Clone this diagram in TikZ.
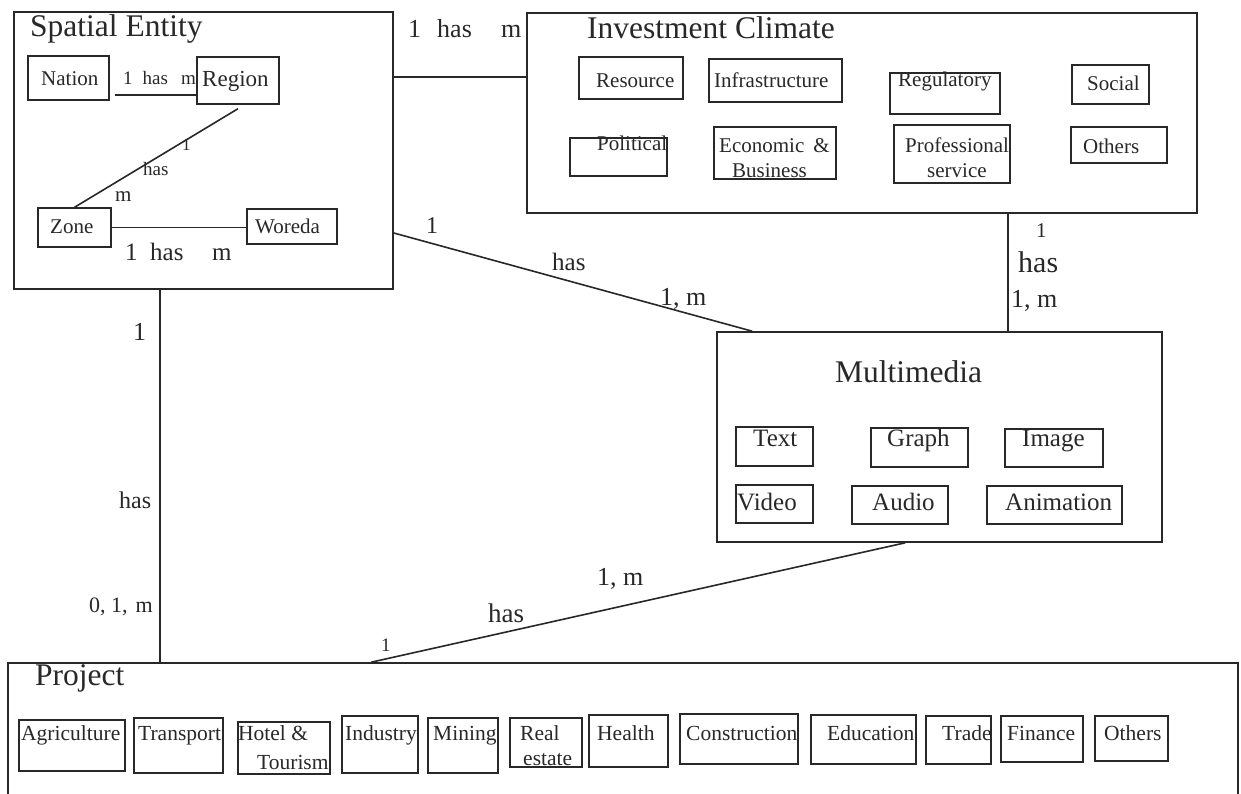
\documentclass[tikz,border=0pt]{standalone}
\usepackage{fontspec}
\setmainfont{Liberation Serif}
\usetikzlibrary{fit}
\definecolor{ink}{RGB}{40,40,40}
\newcommand{\boxnode}[4][item]{\node[#1, fit={#3 #4}] (#2) {};}
\begin{document}
\begin{tikzpicture}[x=1pt,y=-1pt,
  frame/.style={draw=ink, line width=1.6pt, inner sep=0pt},
  item/.style={draw=ink, line width=1.4pt, inner sep=0pt},
  link/.style={draw=ink, line width=1.6pt},
  txt/.style={inner sep=0pt, anchor=base west, text=ink, font=\fontsize{#1}{#1}\selectfont},
]
\useasboundingbox (0,0) rectangle (1241,793);
\clip (0,0) rectangle (1241,793);
\fill[white] (0,0) rectangle (1241,793);

% ---- Spatial Entity ----
\boxnode[frame]{se}{(14,12)}{(393,289)}
\node[txt=31.5] (se-t) at (30,36) {Spatial Entity};
\boxnode{nation}{(28,56)}{(109,100)}
\boxnode{region}{(197,57)}{(279,104)}
\boxnode{zone}{(38,208)}{(111,247)}
\boxnode{woreda}{(247,209)}{(337,244)}
\node[txt=21] (nation-t) at (41,85) {Nation};
\node[txt=23] (region-t) at (202,86) {Region};
\node[txt=21] (zone-t) at (50,233) {Zone};
\node[txt=21] (woreda-t) at (255,233) {Woreda};

% ---- Investment Climate ----
\boxnode[frame]{ic}{(527,13)}{(1197,213)}
\node[txt=31.5] (ic-t) at (587,38) {Investment Climate};
\boxnode{resource}{(579,57)}{(683,99)}
\boxnode{infra}{(709,59)}{(842,102)}
\boxnode{regul}{(890,73)}{(1000,114)}
\boxnode{social}{(1072,65)}{(1149,104)}
\boxnode{political}{(570,138)}{(667,176)}
\boxnode{econ}{(714,127)}{(836,179)}
\boxnode{prof}{(894,125)}{(1010,183)}
\boxnode{icothers}{(1071,127)}{(1167,163)}
\node[txt=21] (resource-t) at (596,87) {Resource};
\node[txt=21] (infra-t) at (714,87) {Infrastructure};
\node[txt=21] (regul-t) at (898,86) {Regulatory};
\node[txt=21] (social-t) at (1087,90) {Social};
\node[txt=21] (political-t) at (597,150) {Political};
\node[txt=21] (econ-t1) at (719,152) {Economic\hspace{9pt}\&};
\node[txt=21] (econ-t2) at (732,177) {Business};
\node[txt=21] (prof-t1) at (905,152) {Professional};
\node[txt=21] (prof-t2) at (927,177) {service};
\node[txt=21] (icothers-t) at (1083,153) {Others};

% ---- Multimedia ----
\boxnode[frame]{mm}{(717,332)}{(1162,542)}
\node[txt=31.5] (mm-t) at (835,382) {Multimedia};
\boxnode{text}{(736,427)}{(813,466)}
\boxnode{graph}{(871,428)}{(968,467)}
\boxnode{image}{(1005,429)}{(1103,467)}
\boxnode{video}{(736,485)}{(813,523)}
\boxnode{audio}{(852,486)}{(948,524)}
\boxnode{anim}{(987,486)}{(1122,524)}
\node[txt=25] (text-t) at (753,446) {Text};
\node[txt=25] (graph-t) at (887,446) {Graph};
\node[txt=25] (image-t) at (1022,446) {Image};
\node[txt=25] (video-t) at (737,510) {Video};
\node[txt=25] (audio-t) at (872,510) {Audio};
\node[txt=25] (anim-t) at (1005,510) {Animation};

% ---- Project ----
\boxnode[frame]{proj}{(8,663)}{(1238,830)}
\node[txt=31.5] (proj-t) at (35,685) {Project};
\boxnode{agri}{(19,720)}{(125,771)}
\boxnode{transp}{(134,718)}{(223,773)}
\boxnode{hotel}{(238,722)}{(330,774)}
\boxnode{indus}{(342,716)}{(418,773)}
\boxnode{mining}{(428,718)}{(498,773)}
\boxnode{realest}{(510,718)}{(582,767)}
\boxnode{health}{(589,715)}{(668,767)}
\boxnode{constr}{(680,714)}{(798,764)}
\boxnode{educ}{(811,715)}{(916,764)}
\boxnode{trade}{(926,716)}{(991,764)}
\boxnode{finance}{(1001,716)}{(1083,762)}
\boxnode{prothers}{(1095,716)}{(1168,761)}
\node[txt=21.5] (agri-t) at (21,740) {Agriculture};
\node[txt=21.5] (transp-t) at (138,740) {Transport};
\node[txt=21.5] (hotel-t1) at (238,740) {Hotel \&};
\node[txt=21.5] (hotel-t2) at (257,769) {Tourism};
\node[txt=21.5] (indus-t) at (345,740) {Industry};
\node[txt=21.5] (mining-t) at (433,740) {Mining};
\node[txt=21.5] (realest-t1) at (520,740) {Real};
\node[txt=21.5] (realest-t2) at (523,765) {estate};
\node[txt=21.5] (health-t) at (597,740) {Health};
\node[txt=21.5] (constr-t) at (686,740) {Construction};
\node[txt=21.5] (educ-t) at (827,740) {Education};
\node[txt=21.5] (trade-t) at (942,740) {Trade};
\node[txt=21.5] (finance-t) at (1007,740) {Finance};
\node[txt=21.5] (prothers-t) at (1104,740) {Others};

% ---- connectors inside Spatial Entity ----
\coordinate (nrstart) at (115,95);
\draw[link] (nrstart) -- (nrstart -| region.west);
\draw[link] ([yshift=-4pt]region.south) -- (zone.north);
\draw[link] (zone.east) -- (zone.east -| woreda.west);
\node[txt=19] (nr-l) at (123,84) {1\hspace{10pt}has\hspace{13pt}m};
\node[txt=17] (rz-l1) at (182,150) {1};
\node[txt=19] (rz-l2) at (143,175) {has};
\node[txt=21] (rz-l3) at (115,201) {m};
\node[txt=25] (zw-l1) at (125,260) {1};
\node[txt=25] (zw-l2) at (150,260) {has};
\node[txt=25] (zw-l3) at (212,260) {m};

% ---- connectors between entities ----
\coordinate (seicY) at (0,77);
\draw[link] (se.east |- seicY) -- (ic.west |- seicY);
\node[txt=26] (seic-l1) at (408,37) {1};
\node[txt=26] (seic-l2) at (437,37) {has};
\node[txt=26] (seic-l3) at (501,37) {m};

\coordinate (semmY) at (0,233);
\draw[link] (se.east |- semmY) -- ([xshift=36pt]mm.north west);
\node[txt=24] (semm-l1) at (426,233) {1};
\node[txt=25] (semm-l2) at (552,270) {has};
\node[txt=26] (semm-l3) at (660,305) {1, m};

\coordinate (icmmX) at (1008,0);
\draw[link] (ic.south -| icmmX) -- (mm.north -| icmmX);
\node[txt=21] (icmm-l1) at (1036,237) {1};
\node[txt=30] (icmm-l2) at (1018,272) {has};
\node[txt=26] (icmm-l3) at (1011,307) {1, m};

\coordinate (seprX) at (160,0);
\draw[link] (se.south -| seprX) -- (proj.north -| seprX);
\node[txt=26] (sepr-l1) at (133,340) {1};
\node[txt=24] (sepr-l2) at (119,508) {has};
\node[txt=22, anchor=base east] (sepr-l3) at (153,612) {0, 1,\hspace{8pt}m};

\draw[link] ([xshift=189pt]mm.south west) -- ([xshift=364pt]proj.north west);
\node[txt=26] (mmpr-l1) at (597,585) {1, m};
\node[txt=27] (mmpr-l2) at (488,622) {has};
\node[txt=19] (mmpr-l3) at (381,651) {1};
\end{tikzpicture}
\end{document}
